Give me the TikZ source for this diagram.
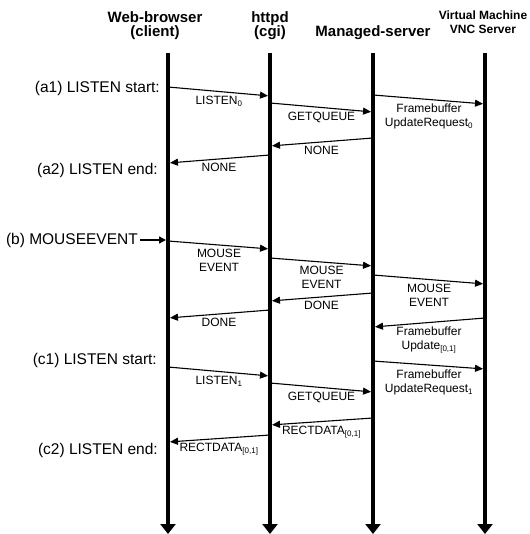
\documentclass[tikz,border=0pt]{standalone}
\usepackage{fontspec}
\setmainfont{Liberation Sans}
\usetikzlibrary{arrows.meta}
\begin{document}
\begin{tikzpicture}[x=1pt, y=-1pt, line join=round,
	head/.style={font=\fontsize{15}{14}\selectfont\bfseries, align=center, inner sep=0pt},
	vmhead/.style={font=\fontsize{12}{14}\selectfont\bfseries, align=center, inner sep=0pt},
	life/.style={line width=4pt, -{Triangle[length=10pt,width=15pt]}},
	msg/.style={line width=1.1pt, -{Triangle[length=8pt,width=7pt]}, shorten <=2pt, shorten >=2pt},
	lbl/.style={font=\fontsize{12}{14}\selectfont, align=center, inner sep=1pt, anchor=north},
	evt/.style={font=\fontsize{15.5}{18}\selectfont, inner sep=0pt, anchor=east}]
	\useasboundingbox (0,0) rectangle (529,534);
	\path
	(168,53) coordinate (wb)
	(270,53) coordinate (cgi)
	(373,53) coordinate (ms)
	(485,53) coordinate (vm);
	% heads
	\node[head] (wbh) at (155,26) {Web-browser\\(client)};
	\node[head] (cgih) at (270,26) {httpd\\(cgi)};
	\node[head] (msh) at (373,33) {Managed-server};
	\node[vmhead] (vmh) at (483,22) {Virtual Machine\\VNC Server};
	% lifelines
	\foreach \x in {wb, cgi, ms, vm}
	\draw[life] (\x) -- (\x |- 0,534);
	% events
	\node[evt] (a1) at (160,88) {(a1) LISTEN start:};
	\node[evt] (a2) at (158,170) {(a2) LISTEN end:};
	\node[evt] (b) at (138,240) {(b) MOUSEEVENT};
	\node[evt] (c1) at (157,360) {(c1) LISTEN start:};
	\node[evt] (c2) at (158,450) {(c2) LISTEN end:};
	\draw[line width=1.5pt, -{Triangle[length=7pt,width=7pt]}, shorten <=2pt, shorten >=2pt] (b.east) -- (wb |- b.east);
	% messages
	\foreach \p/\ya/\q/\yb/\t in {
		wb/87/cgi/96/{LISTEN\textsubscript{0}},
		cgi/103/ms/112/{GETQUEUE},
		ms/95/vm/104/{Framebuffer\\UpdateRequest\textsubscript{0}},
		ms/138/cgi/146/{NONE},
		cgi/155/wb/163/{NONE},
		wb/241/cgi/249/{MOUSE\\EVENT},
		cgi/258/ms/266/{MOUSE\\EVENT},
		ms/275/vm/284/{MOUSE\\EVENT},
		ms/293/cgi/301/{DONE},
		cgi/310/wb/318/{DONE},
		vm/318/ms/327/{Framebuffer\\Update\textsubscript{[0,1]}},
		ms/361/vm/369/{Framebuffer\\UpdateRequest\textsubscript{1}},
		wb/367/cgi/376/{LISTEN\textsubscript{1}},
		cgi/383/ms/392/{GETQUEUE},
		ms/418/cgi/425/{RECTDATA\textsubscript{[0,1]}},
		cgi/435/wb/442/{RECTDATA\textsubscript{[0,1]}}}
	\draw[msg] (\p |- 0,\ya) -- (\q |- 0,\yb) node[lbl, midway, yshift=-3pt] {\t};
\end{tikzpicture}
\end{document}
